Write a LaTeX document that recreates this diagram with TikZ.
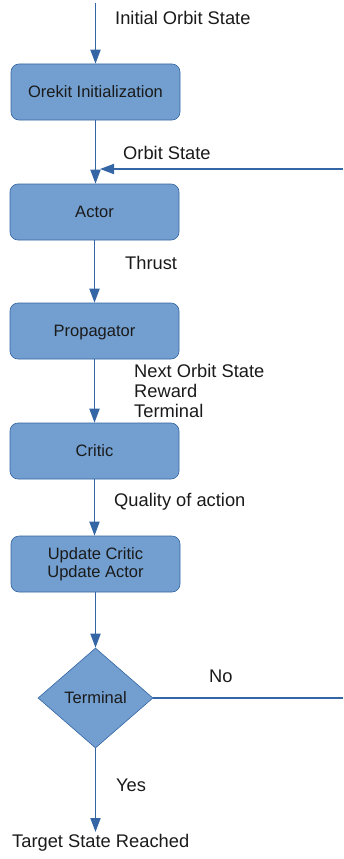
\documentclass[tikz,border=0pt]{standalone}
\usepackage{fontspec}
\setmainfont{Liberation Sans}
\usetikzlibrary{shapes.geometric,arrows.meta}
\definecolor{boxfill}{RGB}{114,159,207}
\definecolor{boxline}{RGB}{52,101,164}
\definecolor{txt}{RGB}{26,26,26}
\tikzset{
  stepbox/.style={draw=boxline, line width=0.6pt, fill=boxfill, rounded corners=8pt,
    minimum width=169pt, minimum height=56pt, inner sep=0pt, align=center,
    font=\fontsize{16.5}{18.5}\selectfont, text=txt},
  decision/.style={draw=boxline, line width=0.6pt, fill=boxfill, diamond,
    minimum width=115pt, minimum height=100pt, inner sep=0pt,
    font=\fontsize{16.5}{18.5}\selectfont, text=txt},
  flow/.style={draw=boxline, line width=1.8pt, -{Triangle[width=10pt,length=14pt]}},
  plain/.style={draw=boxline, line width=1.8pt},
  lbl/.style={anchor=west, inner sep=0pt, align=left, text=txt,
    font=\fontsize{18.3}{20}\selectfont}
}
\begin{document}
\begin{tikzpicture}[x=1pt,y=1pt]
\useasboundingbox (0,0) rectangle (343,-859);

% process boxes
\node[stepbox] (init) at (95.5,-92) {Orekit Initialization};
\node[stepbox] (actor) at (94.5,-212) {Actor};
\node[stepbox, text depth=0pt] (prop) at (94.5,-331) {Propagator};
\node[stepbox] (critic) at (94.5,-451) {Critic};
\node[stepbox] (update) at (95.5,-564) {Update Critic\\Update Actor};
\node[decision] (term) at (95.5,-698) {Terminal};

% free ends
\coordinate (start) at (95.5,-3);
\coordinate (loopin) at (343,-169);
\coordinate (loopout) at (343,-698);
\coordinate (stop) at (95.5,-832);
\coordinate (merge) at (100,-169);

% connectors
\draw[flow] (start) -- (init.north);
\draw[flow] (init.south) -- (init.south |- actor.north);
\draw[flow] (loopin) -- (merge);
\draw[flow] (actor.south) -- (actor.south |- prop.north);
\draw[flow] (prop.south) -- (prop.south |- critic.north);
\draw[flow] (critic.south) -- (critic.south |- update.north);
\draw[flow] (update.south) -- (update.south |- term.north);
\draw[plain] (term.east) -- (loopout);
\draw[flow] (term.south) -- (stop);

% labels
\node[lbl] (l1) at (115,-18) {Initial Orbit State};
\node[lbl] (l2) at (123,-153) {Orbit State};
\node[lbl] (l3) at (125,-263) {Thrust};
\node[lbl] (l4) at (134,-391) {Next Orbit State\\Reward\\Terminal};
\node[lbl] (l5) at (114,-502) {Quality of action};
\node[lbl] (l6) at (209,-676) {No};
\node[lbl] (l7) at (116,-785) {Yes};
\node[lbl] (l8) at (12,-843) {Target State Reached};
\end{tikzpicture}
\end{document}
